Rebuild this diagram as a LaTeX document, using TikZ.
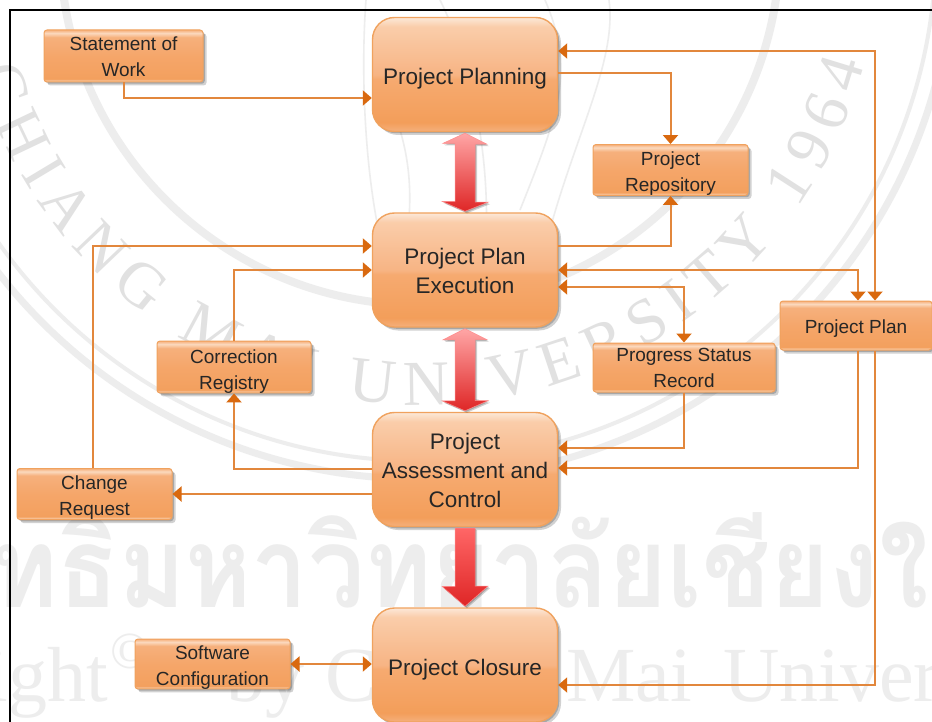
\documentclass[tikz,border=0pt]{standalone}
\usepackage{fontspec}
\setmainfont{Liberation Sans}
\newfontfamily\wmserif{Liberation Serif}
\newfontfamily\wmthai[Script=Thai]{Loma}
\usetikzlibrary{arrows.meta,calc,shadows,decorations.text}
\definecolor{conn}{HTML}{E2873C}
\definecolor{tipc}{HTML}{D9690F}
\definecolor{edge}{HTML}{F0A25E}
\definecolor{wm}{HTML}{EDEDED}
\definecolor{bA}{HTML}{F5B07C}\definecolor{bB}{HTML}{F39E5A}\definecolor{bC}{HTML}{F6AA70}\definecolor{bD}{HTML}{F7B484}\definecolor{bE}{HTML}{FACDAA}\definecolor{bF}{HTML}{FCE8D8}
\pgfdeclareverticalshading{bigsh}{100bp}{color(0bp)=(bA);color(25bp)=(bA);color(29bp)=(bB);color(48bp)=(bC);color(50bp)=(bD);color(71bp)=(bE);color(75bp)=(bF);color(100bp)=(bF)}
\definecolor{sA}{HTML}{FBDCC2}\definecolor{sB}{HTML}{F3A05E}\definecolor{sC}{HTML}{F5A66A}\definecolor{sD}{HTML}{F6B07C}\definecolor{sE}{HTML}{FBD9BE}
\pgfdeclareverticalshading{smallsh}{100bp}{color(0bp)=(sA);color(25bp)=(sA);color(28bp)=(sB);color(50bp)=(sC);color(68bp)=(sD);color(72bp)=(sE);color(75bp)=(sD);color(100bp)=(sD)}
\newcommand{\padtop}[1]{\rule{0pt}{#1pt}}
\tikzset{
  softshadow/.style={drop shadow={shadow xshift=#1,shadow yshift=-#1,opacity=.18,fill=black},
                     drop shadow={shadow xshift=.5*#1,shadow yshift=-.5*#1,opacity=.2,fill=black}},
  bigbox/.style={draw=edge,line width=1.4pt,rounded corners=22pt,shading=bigsh,softshadow=3.5pt,
    minimum width=185pt,minimum height=114pt,inner sep=0pt,align=center,text=black!85,
    font=\fontsize{22.5}{29}\selectfont},
  smallbox/.style={draw=edge,line width=1pt,rounded corners=3pt,shading=smallsh,softshadow=3.5pt,
    inner sep=0pt,align=center,text=black!85,font=\fontsize{19}{26}\selectfont},
  link/.style={draw=conn,line width=2pt},
  tip/.tip={Triangle[length=9pt,width=15pt,color=tipc]},
  oneway/.style={link,-{tip}},
  twoway/.style={link,{tip}-{tip}},
  redbar/.style={draw=red!45!white,line width=.5pt,top color=#1,middle color=red!55!orange!60!white,bottom color=red!85!black!85,softshadow=2pt},
  ringw/.style={draw=wm,line width=#1},
  wmline/.style={draw=wm,line width=1.6pt},
  wmtext/.style={anchor=base west,inner sep=0pt,text=wm,font=\fontsize{#1}{#1}\wmserif}
}
\begin{document}
\begin{tikzpicture}[x=1pt,y=1pt]
\useasboundingbox (0,0) rectangle (932,-722);
\clip (0,0) rectangle (932,-722);
\fill[white] (0,0) rectangle (932,-722);
% watermark
\coordinate (sealc) at (420,55);
\draw[ringw=8pt] (sealc) circle[radius=360];
\draw[ringw=4pt] (sealc) circle[radius=516];
\draw[ringw=7pt] (sealc) circle[radius=534];
\path[decorate,decoration={text along path,text align=fit to path,
   text={|\fontsize{64}{64}\wmserif\color{wm!95!black}|CHIANG MAI UNIVERSITY 1964}}]
   (sealc) ++(196:460) arc[start angle=196,end angle=345,radius=460];
\draw[wmline] (609,0) .. controls (617,-60) and (576,-133) .. (549,-233);
\draw[wmline] (366,0) .. controls (360,-80) and (366,-183) .. (383,-250);
\draw[wmline] (440,0) .. controls (470,-60) and (490,-150) .. (486,-240);
\draw[wmline] (545,0) .. controls (575,-70) and (560,-110) .. (520,-210);
\draw[wmline] (400,-130) .. controls (412,-170) and (412,-210) .. (405,-250);
\node[anchor=base west,inner sep=0pt,text=wm,font=\fontsize{112}{112}\wmthai\bfseries,transform shape,xscale=.9] (wmth) at (-201,-607) {ลิขสิทธิ์มหาวิทยาลัยเชียงใหม่};
\node[wmtext=78,anchor=base east] (wma) at (108,-701) {Copyright};
\node[wmtext=52] (wmb) at (110,-668) {©};
\node[wmtext=78] (wmc) at (226,-701) {by};
\node[wmtext=78] (wmd) at (325,-701) {Chiang};
\node[wmtext=78] (wme) at (566,-701) {Mai};
\node[wmtext=78] (wmf) at (723,-701) {University};
% frame
\draw[black,line width=2.2pt] (932,-10) -- (10,-10) -- (10,-722);
% main boxes
\node[bigbox] (pp) at (465,-74.5) {\padtop{25}Project Planning};
\node[bigbox] (ex) at (465,-270) {\padtop{18.5}Project Plan\\Execution};
\node[bigbox] (as) at (465,-469.5) {\padtop{18.5}Project\\Assessment and\\Control};
\node[bigbox] (cl) at (465,-665) {\padtop{25}Project Closure};
% small boxes
\node[smallbox,minimum width=159pt,minimum height=52pt] (st) at (123.5,-56) {\padtop{16}Statement of\\Work};
\node[smallbox,minimum width=155pt,minimum height=50pt] (re) at (670.5,-170) {\padtop{21}Project\\Repository};
\node[smallbox,minimum width=154pt,minimum height=50pt] (co) at (234,-367) {\padtop{22}Correction\\Registry};
\node[smallbox,minimum width=182pt,minimum height=49pt] (pr) at (684,-367.5) {\padtop{15}Progress Status\\Record};
\node[smallbox,minimum width=152pt,minimum height=49pt] (pl) at (856,-325.5) {\padtop{20}Project Plan};
\node[smallbox,minimum width=155pt,minimum height=51pt] (ch) at (94.5,-494) {\padtop{20}Change\\Request};
\node[smallbox,minimum width=155pt,minimum height=49pt] (so) at (212.5,-664) {\padtop{20}Software\\Configuration};
% red arrows
\path[redbar=red!35!white]
  ($(pp.south)+(0,-1)$) -- ++(22,-11) -- ++(-12,0) -- ++(0,-58) -- ++(13,0)
  -- ($(ex.north)+(0,1)$) -- ++(-23,10) -- ++(13,0) -- ++(0,58) -- ++(-12,0) -- cycle;
\path[redbar=red!35!white]
  ($(ex.south)+(0,-1)$) -- ++(22,-11) -- ++(-12,0) -- ++(0,-61) -- ++(13,0)
  -- ($(as.north)+(0,1)$) -- ++(-23,10) -- ++(13,0) -- ++(0,61) -- ++(-12,0) -- cycle;
\path[redbar=red!60!white]
  ($(as.south)+(-10,-1)$) -- ++(20,0) -- ++(0,-58) -- ++(13,0)
  -- ($(cl.north)+(0,1)$) -- ++(-23,20) -- ++(13,0) -- cycle;
% connectors
\draw[oneway] (st.south) |- ([yshift=-23.5pt]pp.west);
\draw[oneway] ([yshift=1.5pt]pp.east) -| (re.north);
\draw[twoway] ([yshift=23.5pt]pp.east) -| ([xshift=19pt]pl.north);
\draw[oneway] ([yshift=24pt]ex.east) -| (re.south);
\draw[twoway] (ex.east) -| ([xshift=2pt]pl.north);
\draw[twoway] ([yshift=-17pt]ex.east) -| (pr.north);
\draw[oneway] (pr.south) |- ([yshift=21.5pt]as.east);
\draw[oneway] ([xshift=2pt]pl.south) |- ([yshift=1.5pt]as.east);
\draw[oneway] ([xshift=19pt]pl.south) |- ([yshift=-20pt]cl.east);
\draw[oneway] ([yshift=.5pt]as.west) -| (co.south);
\draw[oneway] (co.north) |- (ex.west);
\draw[oneway] ([yshift=-24.5pt]as.west) -- (ch.east);
\draw[oneway] ([xshift=-1.5pt]ch.north) |- ([yshift=24pt]ex.west);
\draw[twoway] (so.east) -- (so.east -| cl.west);
\end{tikzpicture}
\end{document}
